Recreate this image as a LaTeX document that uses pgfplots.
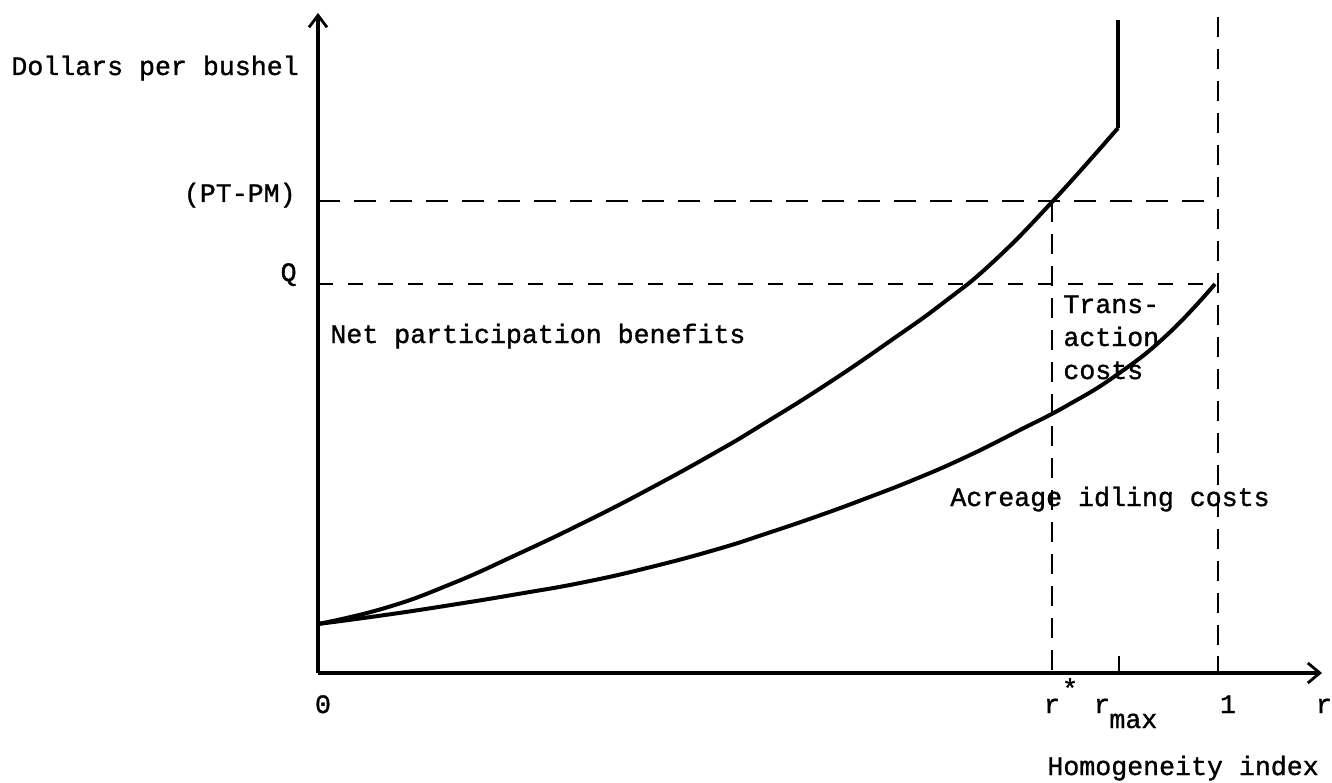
\documentclass[border=0pt]{standalone}
\usepackage{fontspec}
\setmainfont{Liberation Mono}[FakeBold=1.2]
\usepackage{pgfplots}
\usepackage{pgfplotstable}
\pgfplotsset{compat=1.18}
\usetikzlibrary{arrows.meta}

\pgfplotstableread{
x y
0 49
67 65
133 89
200 119
267 151
333 185
400 222
442 247
509 289
575 334
625 370
675 411
734 471
800 545
}\tabUpper

\pgfplotstableread{
x y
0 49
67 58
133 68
200 79
267 91
333 106
400 124
450 140
500 157
549 175
600 195
650 217
700 242
750 268
800 299
850 339
897 389
}\tabLower

\begin{document}
\begin{tikzpicture}[lab/.style={font=\fontsize{13.3}{15}\selectfont,inner sep=0pt}]
\begin{axis}[
  scale only axis, width=502pt, height=330pt,
  xmin=0, xmax=1004, ymin=0, ymax=660,
  axis lines=left,
  axis line style={line width=1.9pt},
  x axis line style={-{Straight Barb[length=6pt,width=10pt,line width=1.4pt]}},
  y axis line style={-{Straight Barb[length=6pt,width=9pt,line width=1.4pt]}},
  xtick={801,900}, xticklabels={}, ytick=\empty,
  tick align=inside, major tick length=8.5pt,
  every tick/.style={line width=1.4pt, black},
  clip=false,
]
\addplot[line width=2pt, smooth, tension=0.8] table {\tabUpper};
\addplot[line width=2.4pt] coordinates {(800,545) (800,653)};
\addplot[line width=2pt, smooth, tension=0.8] table {\tabLower};

\addplot[line width=1.3pt, dash pattern=on 11pt off 7pt] coordinates {(0,472) (900,472)};
\addplot[line width=1.2pt, dash pattern=on 7.5pt off 7.5pt] coordinates {(0,389) (897,389)};
\addplot[line width=1.2pt, dash pattern=on 10pt off 6pt] coordinates {(734,471) (734,0)};
\addplot[line width=1.3pt, dash pattern=on 10pt off 6pt] coordinates {(900,656) (900,0)};

\node[lab,anchor=base west] at (axis cs:-307,598) {Dollars per bushel};
\node[lab,anchor=base east] at (axis cs:-22,471) {(PT-PM)};
\node[lab,anchor=base east] at (axis cs:-21,392) {Q};
\node[lab,anchor=base west] at (axis cs:12,330) {Net participation benefits};
\node[lab,anchor=base west] at (axis cs:745,360) {Trans-};
\node[lab,anchor=base west] at (axis cs:745,327) {action};
\node[lab,anchor=base west] at (axis cs:745,294) {costs};
\node[lab,anchor=base west] at (axis cs:632,167) {Acreage idling costs};
\node[lab,anchor=base] at (axis cs:5,-40) {0};
\node[lab,anchor=base] at (axis cs:734,-40) {r};
\node[lab,anchor=center] at (axis cs:752,-15) {*};
\node[lab,anchor=base] at (axis cs:784,-40) {r};
\node[lab,anchor=base west] at (axis cs:791,-55) {max};
\node[lab,anchor=base] at (axis cs:910,-40) {1};
\node[lab,anchor=base] at (axis cs:1006,-40) {r};
\node[lab,anchor=base west] at (axis cs:729,-102) {Homogeneity index};

\coordinate (bbA) at (axis cs:-318,-109);
\coordinate (bbB) at (axis cs:1014,673);
\end{axis}
\path (bbA) rectangle (bbB);
\end{tikzpicture}
\end{document}
